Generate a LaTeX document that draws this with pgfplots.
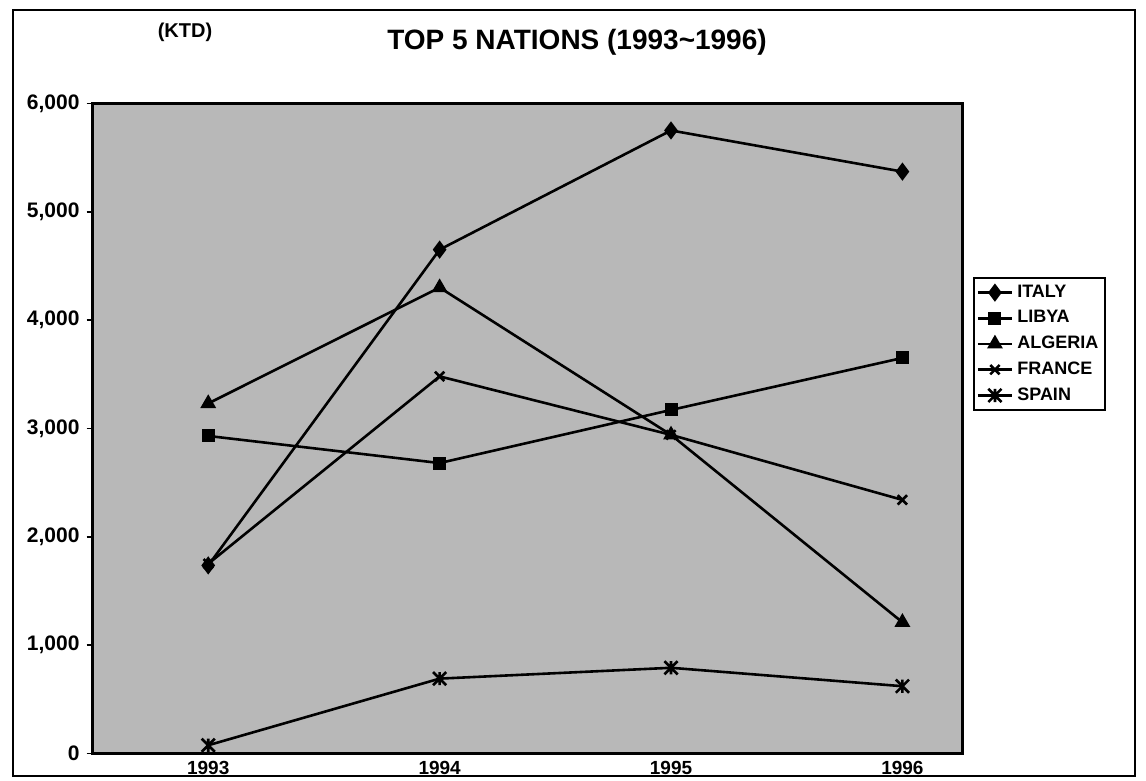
\documentclass[border=0pt]{standalone}
\usepackage{fontspec}
\setmainfont{Liberation Sans}
\usepackage{pgfplots}
\pgfplotsset{compat=1.18}
\pgfdeclareplotmark{xbar}{%
  \pgfpathmoveto{\pgfqpoint{-\pgfplotmarksize}{-\pgfplotmarksize}}%
  \pgfpathlineto{\pgfqpoint{\pgfplotmarksize}{\pgfplotmarksize}}%
  \pgfpathmoveto{\pgfqpoint{-\pgfplotmarksize}{\pgfplotmarksize}}%
  \pgfpathlineto{\pgfqpoint{\pgfplotmarksize}{-\pgfplotmarksize}}%
  \pgfpathmoveto{\pgfqpoint{0pt}{-\pgfplotmarksize}}%
  \pgfpathlineto{\pgfqpoint{0pt}{\pgfplotmarksize}}%
  \pgfusepathqstroke}
\begin{document}
\begin{tikzpicture}[x=1pt,y=1pt]
\useasboundingbox (0,0) rectangle (573,390.5);
\draw[line width=1.1pt] (6.5,2.5) rectangle (567.5,385.5);
\node[font=\bfseries\fontsize{10}{12}\selectfont] at (92.5,374.5) {(KTD)};
\node[font=\bfseries\fontsize{14}{16}\selectfont] at (288.5,369.5) {TOP 5 NATIONS (1993\textasciitilde1996)};
\begin{axis}[
  at={(40,25.5)}, anchor=south west,
  scale only axis, width=435pt, height=325pt,
  xmin=-0.5, xmax=3.26, ymin=0, ymax=6000,
  xtick={0,1,2,3}, xticklabels={1993,1994,1995,1996},
  ytick={0,1000,...,6000},
  xtick pos=bottom, ytick pos=left,
  /pgf/number format/assume math mode=true,
  /pgf/number format/1000 sep={,},
  scaled y ticks=false,
  yticklabel style={font=\bfseries\fontsize{10.5}{12}\selectfont, xshift=0pt},
  xticklabel style={font=\bfseries\fontsize{9.5}{11}\selectfont, inner sep=0pt, yshift=-0.8pt},
  xtick style={draw=none},
  ytick style={black, line width=0.8pt},
  tick align=outside, major tick length=3pt,
  axis background/.style={fill=black!28},
  axis line style={black, line width=1.2pt},
  every axis plot/.append style={black, line width=1.3pt, mark size=3pt},
  legend image code/.code={\draw[mark repeat=2,mark phase=2,#1] plot coordinates {(0cm,0cm) (0.3cm,0cm) (0.6cm,0cm)};},
  legend style={at={(1.0115,0.733)}, anchor=north west, draw=black, line width=1pt, fill=white,
    font=\bfseries\fontsize{9}{10}\selectfont, row sep=1.1pt, inner sep=1.5pt},
  legend cell align=left,
]
\addplot[mark=diamond*, mark size=3.5pt] coordinates {(0,1735) (1,4650) (2,5750) (3,5370)};
\addlegendentry{ITALY}
\addplot[mark=square*, mark size=2.6pt] coordinates {(0,2930) (1,2680) (2,3170) (3,3650)};
\addlegendentry{LIBYA}
\addplot[mark=triangle*, mark size=3.3pt] coordinates {(0,3230) (1,4300) (2,2940) (3,1210)};
\addlegendentry{ALGERIA}
\addplot[mark=x, mark size=3.3pt] coordinates {(0,1750) (1,3480) (2,2940) (3,2340)};
\addlegendentry{FRANCE}
\addplot[mark=xbar, mark size=3.3pt] coordinates {(0,75) (1,690) (2,790) (3,620)};
\addlegendentry{SPAIN}
\end{axis}
\end{tikzpicture}
\end{document}
